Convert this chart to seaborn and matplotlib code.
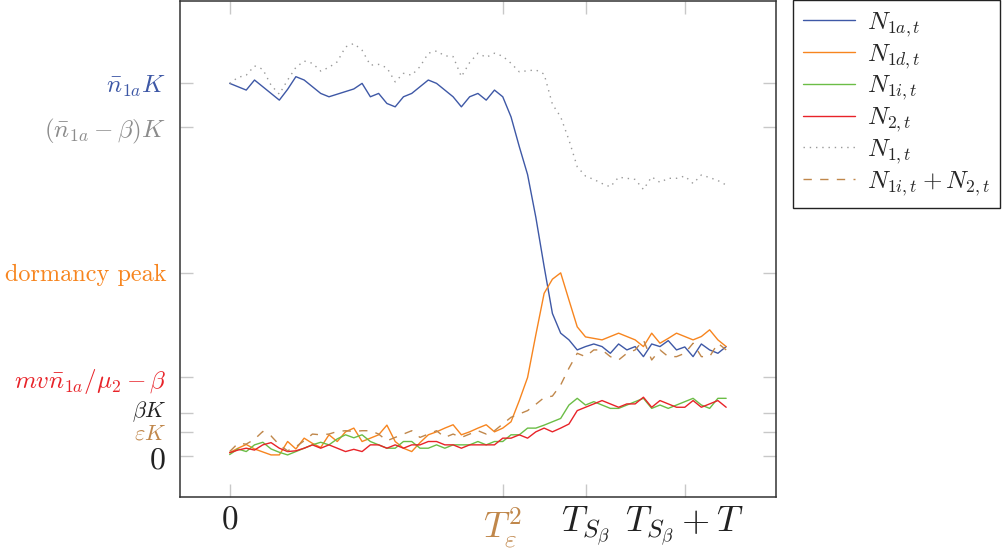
import numpy as np
import pandas as pd
import matplotlib
matplotlib.use("Agg")
import matplotlib.pyplot as plt
import matplotlib.transforms as mtransforms
import seaborn as sns

# time steps
t = list(range(61))

# series (K = 100)
n1a = [100.0, 99.1, 98.2, 100.9, 99.1, 97.3, 95.5, 98.4, 101.8, 100.9,
       99.1, 97.3, 96.4, 97.1, 97.8, 98.5, 100.0, 96.4, 97.3, 94.6,
       93.7, 96.4, 97.3, 99.1, 100.9, 100.0, 98.2, 96.4, 93.7, 96.4,
       97.3, 95.5, 98.2, 96.4, 91.0, 83.0, 75.5, 64.0, 50.8, 38.2,
       32.9, 31.1, 28.4, 29.3, 30.0, 29.3, 27.5, 30.0, 28.4, 29.3,
       26.6, 30.0, 29.3, 30.9, 28.4, 29.2, 26.6, 30.0, 28.4, 27.5, 29.3]
n1d = [0.8, 2.0, 3.0, 1.8, 1.0, 0.2, 0.2, 3.8, 1.8, 4.7,
       3.3, 2.2, 5.6, 3.8, 6.4, 7.4, 3.8, 4.7, 5.6, 8.2,
       3.8, 2.0, 1.1, 3.5, 5.6, 6.4, 7.4, 8.3, 5.6, 6.4,
       7.4, 8.3, 6.4, 7.4, 9.1, 14.8, 21.0, 32.5, 43.6, 47.4,
       49.1, 41.8, 34.6, 31.9, 31.5, 31.1, 32.0, 32.9, 32.0, 31.1,
       29.3, 32.9, 30.2, 31.5, 32.9, 32.0, 31.1, 32.0, 33.8, 31.1, 29.3]
n1i = [0.3, 1.8, 1.1, 2.9, 3.6, 1.8, 0.9, 0.2, 1.1, 2.0,
       2.9, 3.6, 2.9, 4.5, 5.6, 4.8, 5.6, 3.8, 2.9, 2.0,
       2.0, 3.8, 3.8, 2.0, 2.0, 2.9, 2.0, 2.9, 2.9, 2.9,
       3.8, 2.9, 3.8, 3.8, 5.6, 5.6, 7.4, 7.4, 8.2, 9.1,
       10.0, 13.6, 15.4, 13.6, 14.5, 13.6, 12.7, 12.7, 13.6, 14.5,
       15.4, 12.7, 13.6, 12.7, 13.6, 14.5, 15.4, 13.6, 12.7, 15.4, 15.4]
n2 = [0.8, 1.5, 2.0, 1.5, 2.9, 3.5, 2.0, 1.1, 1.3, 2.0,
      2.9, 2.0, 2.9, 2.0, 1.1, 1.7, 1.1, 2.9, 2.9, 2.0,
      2.9, 2.0, 2.9, 2.9, 3.8, 3.8, 2.9, 2.9, 2.0, 2.9,
      2.9, 2.9, 2.9, 4.7, 4.7, 5.6, 4.7, 6.4, 7.4, 6.4,
      7.4, 8.5, 12.1, 13.0, 13.9, 14.8, 13.9, 13.0, 13.9, 13.9,
      15.7, 13.0, 14.8, 13.9, 13.0, 13.0, 14.8, 13.0, 13.9, 14.8, 13.0]
n1 = [100.0, 101.6, 102.2, 104.7, 103.8, 99.5, 97.1, 100.9, 104.3, 106.0,
      105.4, 103.3, 104.3, 105.8, 109.8, 110.7, 108.9, 104.9, 105.1, 104.2,
      100.4, 102.7, 102.2, 104.5, 108.1, 108.7, 107.4, 107.2, 101.8, 105.6,
      108.1, 107.0, 108.1, 107.3, 105.4, 103.1, 103.4, 103.6, 102.5, 94.4,
      91.0, 84.8, 77.6, 75.1, 74.2, 73.1, 72.2, 74.8, 74.5, 74.2,
      71.5, 74.9, 73.4, 74.5, 74.5, 75.1, 73.1, 75.4, 74.7, 73.9, 72.7]
n1i_n2 = [1.1, 3.3, 3.1, 4.4, 6.5, 5.3, 2.9, 1.3, 2.4, 4.0,
          5.8, 5.6, 5.8, 6.5, 6.7, 6.5, 6.7, 6.7, 5.8, 4.0,
          4.9, 5.8, 6.7, 4.9, 5.8, 6.7, 4.9, 5.8, 4.9, 5.8,
          6.7, 5.8, 6.7, 8.5, 10.3, 11.2, 12.1, 13.8, 15.6, 16.0,
          19.0, 23.5, 27.5, 26.6, 28.4, 28.4, 26.6, 25.7, 27.5, 28.4,
          31.1, 25.7, 28.4, 26.6, 26.6, 27.5, 30.2, 26.6, 26.6, 30.2, 28.4]

# tick positions and labels
xticks = [0, 33, 43, 55]
xlabels = [r"$0$", r"$T_\varepsilon^2$", r"$T_{S_\beta}$", r"$T_{S_\beta}+T$"]
yticks = [100.0, 88.3, 49.1, 21.05, 11.4, 6.4, 0.0]
ylabels = [r"$\bar{n}_{1a}K$", r"$(\bar{n}_{1a}-\beta)K$", "dormancy peak",
           r"$mv\bar{n}_{1a}/\mu_2-\beta$", r"$\beta K$", r"$\varepsilon K$", r"$0$"]

blue = "#3e58a6"
orange = "#f7851f"
green = "#6bbd46"
red = "#e82329"
brown = "#c0874b"
gray = "#999999"
ycolors = [blue, "#8c8c8c", orange, red, "#222222", brown, "#222222"]
ysizes = [18, 18, 17.5, 18, 16, 16, 23]
xcolors = ["#222222", brown, "#222222", "#222222"]
xsizes = [24, 26, 26, 26]

df = pd.DataFrame({"t": t, "n1a": n1a, "n1d": n1d, "n1i": n1i,
                   "n2": n2, "n1": n1, "n1i_n2": n1i_n2})

sns.set_style("white")
plt.rcParams["mathtext.fontset"] = "cm"
plt.rcParams["font.family"] = ["cmr10", "DejaVu Sans"]
plt.rcParams["axes.formatter.use_mathtext"] = True
plt.rcParams["axes.unicode_minus"] = False

fig = plt.figure(figsize=(10.03, 5.5), dpi=100)
ax = fig.add_axes([0.1795, 0.0964, 0.594, 0.9016])

lw = 1.0
sns.lineplot(data=df, x="t", y="n1a", color=blue, lw=lw, label=r"$N_{1a,t}$", ax=ax)
sns.lineplot(data=df, x="t", y="n1d", color=orange, lw=lw, label=r"$N_{1d,t}$", ax=ax)
sns.lineplot(data=df, x="t", y="n1i", color=green, lw=lw, label=r"$N_{1i,t}$", ax=ax)
sns.lineplot(data=df, x="t", y="n2", color=red, lw=lw, label=r"$N_{2,t}$", ax=ax)
sns.lineplot(data=df, x="t", y="n1", color=gray, lw=lw, linestyle=(0, (1, 3.5)),
             label=r"$N_{1,t}$", ax=ax)
sns.lineplot(data=df, x="t", y="n1i_n2", color=brown, lw=lw, linestyle=(0, (6, 6)),
             label=r"$N_{1i,t}+N_{2,t}$", ax=ax)

ax.set_xlim(-6, 66)
ax.set_ylim(-11.1, 122.1)
ax.set_xlabel("")
ax.set_ylabel("")

ax.set_xticks(xticks)
ax.set_xticklabels(xlabels)
ax.set_yticks(yticks)
ax.set_yticklabels(ylabels)
ax.tick_params(axis="both", direction="in", length=9.5, width=1.0, color="#c8c8c8",
               top=True, right=True, bottom=True, left=True)
ax.tick_params(axis="x", pad=6)
ax.tick_params(axis="y", pad=10)
for lbl, c, s in zip(ax.get_xticklabels(), xcolors, xsizes):
    lbl.set_color(c)
    lbl.set_fontsize(s)
for lbl, c, s in zip(ax.get_yticklabels(), ycolors, ysizes):
    lbl.set_color(c)
    lbl.set_fontsize(s)

# beta K, eps K and 0 sit very close, nudge them apart a little
yl = ax.get_yticklabels()
shifts = {4: 3.6, 5: 0.2, 6: -1.5}
for i, dy in shifts.items():
    yl[i].set_transform(yl[i].get_transform()
                        + mtransforms.ScaledTranslation(0, dy / 72, fig.dpi_scale_trans))

for s in ax.spines.values():
    s.set_color("#333333")
    s.set_linewidth(1.1)

leg = ax.legend(loc="upper left", bbox_to_anchor=(0.7906, 1.0), bbox_transform=fig.transFigure,
                borderaxespad=0, frameon=True, fancybox=False, framealpha=1,
                edgecolor="#222222", fontsize=18, handlelength=2.1, handletextpad=0.45,
                labelspacing=0.12, borderpad=0.4)
leg.get_frame().set_linewidth(1.0)

fig.savefig("out.png", dpi=100)
